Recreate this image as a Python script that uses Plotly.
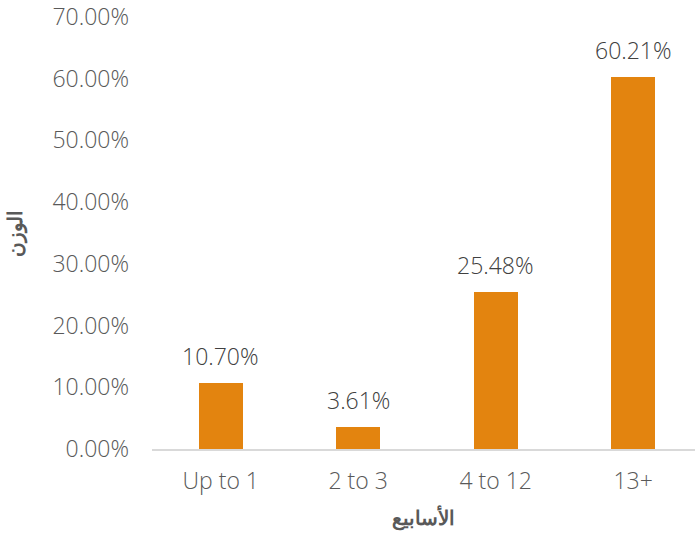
import plotly.graph_objects as go

categories = ["Up to 1", "2 to 3", "4 to 12", "13+"]
values = [0.1070, 0.0361, 0.2548, 0.6021]
tick_vals = [0, 0.1, 0.2, 0.3, 0.4, 0.5, 0.6, 0.7]
tick_text = ["0.00%", "10.00%", "20.00%", "30.00%", "40.00%", "50.00%", "60.00%", "70.00%"]
x_title = "الأسابيع"
y_title = "الوزن"

font_family = "'Open Sans', Lato, sans-serif"

fig = go.Figure()
fig.add_trace(go.Bar(
    x=list(range(len(categories))),
    y=values,
    width=0.32,
    marker=dict(color="#E3840F", line=dict(width=0)),
    cliponaxis=False,
))

for i, v in enumerate(values):
    fig.add_annotation(
        x=i, y=v, text=f"{v*100:.2f}%", showarrow=False,
        xanchor="center", yanchor="bottom", yshift=9,
        font=dict(family=font_family, size=23, color="#404040", weight=300),
    )

fig.update_layout(
    width=695, height=535,
    margin=dict(l=152, r=0, t=15, b=86),
    plot_bgcolor="white", paper_bgcolor="white",
    showlegend=False,
    bargap=0,
    xaxis=dict(
        range=[-0.5, 3.45],
        tickvals=list(range(len(categories))),
        ticktext=categories,
        showgrid=False, zeroline=False,
        showline=True, linecolor="#D9D9D9", linewidth=1.5,
        ticks="", ticklabelstandoff=11,
        tickfont=dict(family=font_family, size=23, color="#595959", weight=300),
        title=dict(text=f"<b>{x_title}</b>", standoff=16,
                   font=dict(family="'Noto Sans', sans-serif", size=20, color="#595959")),
    ),
    yaxis=dict(
        range=[0, 0.7],
        tickvals=tick_vals,
        ticktext=tick_text,
        showgrid=False, zeroline=False, showline=False,
        ticks="", ticklabelstandoff=22,
        ticklabeloverflow="allow",
        tickfont=dict(family=font_family, size=23, color="#595959", weight=300),
        title=dict(text=f"<b>{y_title}</b>", standoff=24,
                   font=dict(family="'Noto Sans', sans-serif", size=20, color="#595959")),
    ),
)

fig.write_html("out.html")
